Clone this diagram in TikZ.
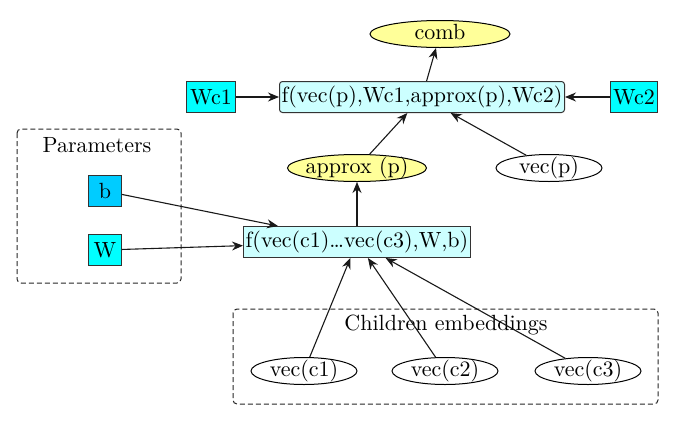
\documentclass[tikz,border=0pt]{standalone}
\usepackage{fontspec}
\setmainfont{lmroman10-regular}[Extension=.otf]
\usetikzlibrary{arrows.meta, shapes.geometric}
\definecolor{paleCyan}{HTML}{CCFFFF}
\definecolor{brightCyan}{HTML}{00FFFF}
\definecolor{skyBlue}{HTML}{00CCFF}
\definecolor{paleYellow}{HTML}{FFFF99}
\definecolor{edgeGray}{HTML}{333333}
\tikzstyle{paramBox} = [draw=edgeGray, fill=brightCyan, line width=1pt,
   inner sep=0pt, text height=16pt, text depth=1pt, minimum height=31pt]
\tikzstyle{funcBox} = [draw=edgeGray, fill=paleCyan, line width=1pt,
   inner sep=0pt, text height=16pt, text depth=5pt, minimum height=31pt]
\tikzstyle{valEllipse} = [draw=black, ellipse, line width=1pt, inner ysep=0pt,
   inner xsep=-10pt, text height=15pt, text depth=4pt, minimum height=27pt]
\tikzstyle{groupFrame} = [draw=black!85, dash pattern=on 5pt off 3pt, line width=1pt,
   rounded corners=4pt]
\tikzstyle{link} = [->, draw=black!90, line width=1.1pt]

\begin{document}
\begin{tikzpicture}[x=1pt, y=-1pt, font=\fontsize{22}{26}\selectfont,
    >={Stealth[length=11pt, width=9pt]}]
  \useasboundingbox (0,0) rectangle (675,421);

  % dashed groups
  \draw[groupFrame] (17,129) rectangle (181,283);
  \draw[groupFrame] (233,309) rectangle (658,404);
  \node (params) at (97,145) {Parameters};
  \node (children) at (446,325) {Children embeddings};

  % parameters
  \node[paramBox, fill=skyBlue, minimum width=33pt] (b) at (105,191) {b};
  \node[paramBox, minimum width=33pt] (W) at (105,250) {W};
  \node[paramBox, minimum width=49pt] (wc1) at (211,97) {Wc1};
  \node[paramBox, minimum width=47pt] (wc2) at (634,97) {Wc2};

  % functions
  \node[funcBox, minimum width=227pt] (fc) at (357,242) {f(vec(c1)…vec(c3),W,b)};
  \node[funcBox, rounded corners=3pt, minimum width=285pt] (fp) at (422,97)
    {f(vec(p),Wc1,approx(p),Wc2)};

  % values
  \node[valEllipse, fill=paleYellow, minimum width=140pt] (comb) at (440,34) {comb};
  \node[valEllipse, fill=paleYellow, minimum width=139pt] (approx) at (357,168) {approx (p)};
  \node[valEllipse, fill=white, minimum width=106pt] (vp) at (549,168) {vec(p)};
  \node[valEllipse, fill=white, minimum width=106pt] (c1) at (304,371) {vec(c1)};
  \node[valEllipse, fill=white, minimum width=106pt] (c2) at (445,371) {vec(c2)};
  \node[valEllipse, fill=white, minimum width=106pt] (c3) at (588,371) {vec(c3)};

  % arrows
  \draw[link] (b) -- (fc);
  \draw[link] (W) -- (fc);
  \draw[link] (c1) -- (fc);
  \draw[link] (c2) -- (fc);
  \draw[link] (c3) -- (fc);
  \draw[link] (fc) -- (approx);
  \draw[link] (approx) -- (fp);
  \draw[link] (vp) -- (fp);
  \draw[link] (wc1) -- (fp);
  \draw[link] (wc2) -- (fp);
  \draw[link] (fp) -- (comb);
\end{tikzpicture}
\end{document}
